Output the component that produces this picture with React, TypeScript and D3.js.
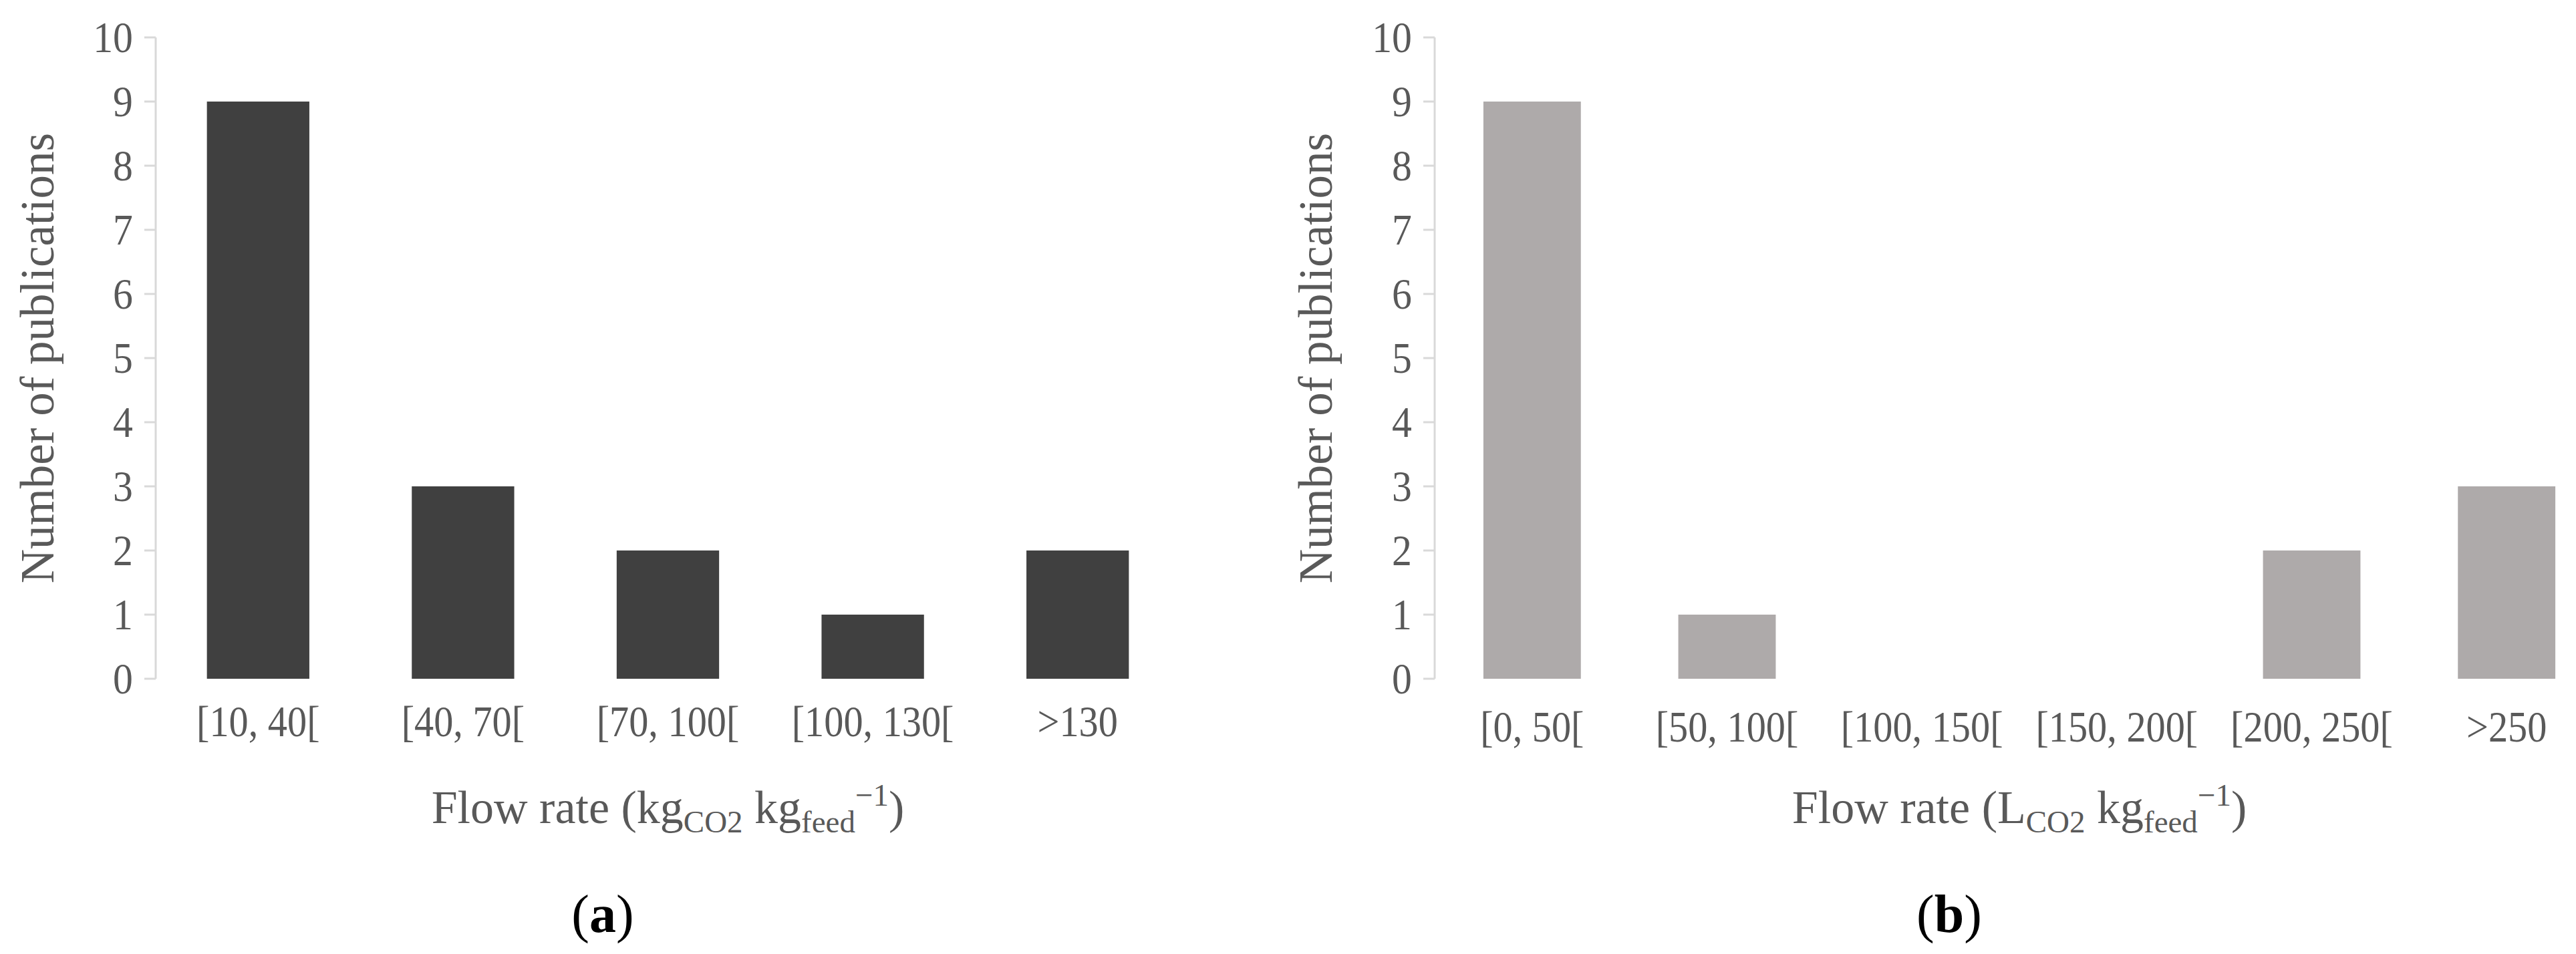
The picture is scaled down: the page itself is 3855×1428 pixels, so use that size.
import React, { useEffect, useRef } from 'react';
import * as d3 from 'd3';

// chart data
const categoriesA = ['[10, 40[', '[40, 70[', '[70, 100[', '[100, 130[', '>130'];
const valuesA = [9, 3, 2, 1, 2];

const categoriesB = ['[0, 50[', '[50, 100[', '[100, 150[', '[150, 200[', '[200, 250[', '>250'];
const valuesB = [9, 1, 0, 0, 2, 3];

const yTicks = [0, 1, 2, 3, 4, 5, 6, 7, 8, 9, 10];
const yTitle = 'Number of publications';

const W = 3855;
const H = 1428;
const TEXT = '#595959';
const FONT = '"Liberation Serif", "Times New Roman", serif';
const SQ = 0.92; // labels look slightly condensed

const App = () => {
  const svgRef = useRef<SVGSVGElement>(null);

  useEffect(() => {
    const svg = d3.select(svgRef.current);
    svg.selectAll('*').remove();

    const y = d3.scaleLinear().domain([0, 10]).range([1016, 56]);

    const panels = [
      {
        cats: categoriesA, vals: valuesA, color: '#404040',
        x0: 233, x1: 1766, titleX: 80, labelY: 1102, titleY: 1232,
        unit: 'kg', tag: 'a', tagX: 902
      },
      {
        cats: categoriesB, vals: valuesB, color: '#aeaaaa',
        x0: 2147, x1: 3897, titleX: 1993, labelY: 1110, titleY: 1232,
        unit: 'L', tag: 'b', tagX: 2917
      }
    ];

    panels.forEach(p => {
      const g = svg.append('g');
      const x = d3.scaleBand()
        .domain(p.cats)
        .range([p.x0, p.x1])
        .paddingInner(0.5)
        .paddingOuter(0.25);

      // y axis line + ticks
      g.append('line')
        .attr('x1', p.x0).attr('x2', p.x0)
        .attr('y1', y(10)).attr('y2', y(0))
        .attr('stroke', '#d9d9d9').attr('stroke-width', 3);

      g.append('g')
        .selectAll('line')
        .data(yTicks)
        .join('line')
        .attr('x1', p.x0 - 17).attr('x2', p.x0)
        .attr('y1', d => y(d)).attr('y2', d => y(d))
        .attr('stroke', '#d9d9d9').attr('stroke-width', 3);

      g.append('g')
        .selectAll('text')
        .data(yTicks)
        .join('text')
        .attr('transform', d => `translate(${p.x0 - 34},${y(d)}) scale(${SQ},1)`)
        .attr('dy', '0.34em')
        .attr('text-anchor', 'end')
        .style('font-family', FONT)
        .style('font-size', '65px')
        .attr('fill', TEXT)
        .text(d => d);

      // bars
      g.append('g')
        .selectAll('rect')
        .data(p.vals)
        .join('rect')
        .attr('x', (d, i) => x(p.cats[i]))
        .attr('y', d => y(d))
        .attr('width', x.bandwidth())
        .attr('height', d => y(0) - y(d))
        .attr('fill', p.color);

      // category labels
      g.append('g')
        .selectAll('text')
        .data(p.cats)
        .join('text')
        .attr('transform', d => `translate(${x(d) + x.bandwidth() / 2},${p.labelY}) scale(${SQ * 0.96},1)`)
        .attr('text-anchor', 'middle')
        .style('font-family', FONT)
        .style('font-size', '66px')
        .attr('fill', TEXT)
        .text(d => d);

      // y title
      g.append('text')
        .attr('transform', `translate(${p.titleX},${(y(0) + y(10)) / 2}) rotate(-90)`)
        .attr('text-anchor', 'middle')
        .style('font-family', FONT)
        .style('font-size', '71px')
        .attr('fill', TEXT)
        .text(yTitle);

      // x title with sub/superscripts
      const t = g.append('text')
        .attr('transform', `translate(${(p.x0 + p.x1) / 2},${p.titleY})`)
        .attr('text-anchor', 'middle')
        .style('font-family', FONT)
        .style('font-size', '70px')
        .attr('fill', TEXT);
      t.append('tspan').text(`Flow rate (${p.unit}`);
      t.append('tspan').attr('dy', 14).style('font-size', '47px').text('CO2');
      t.append('tspan').attr('dy', -14).text(' kg');
      t.append('tspan').attr('dy', 14).style('font-size', '47px').text('feed');
      t.append('tspan').attr('dy', -40).style('font-size', '47px').text('\u22121');
      t.append('tspan').attr('dy', 26).text(')');

      // panel tag
      const tag = svg.append('text')
        .attr('x', p.tagX)
        .attr('y', 1395)
        .attr('text-anchor', 'middle')
        .style('font-family', FONT)
        .style('font-size', '80px')
        .attr('fill', '#000');
      tag.append('tspan').text('(');
      tag.append('tspan').attr('font-weight', 'bold').text(p.tag);
      tag.append('tspan').text(')');
    });
  }, []);

  return (
    <svg
      ref={svgRef}
      width={W}
      height={H}
      style={{ position: 'absolute', left: 0, top: 0, background: '#fff' }}
    ></svg>
  );
};

export default App;
